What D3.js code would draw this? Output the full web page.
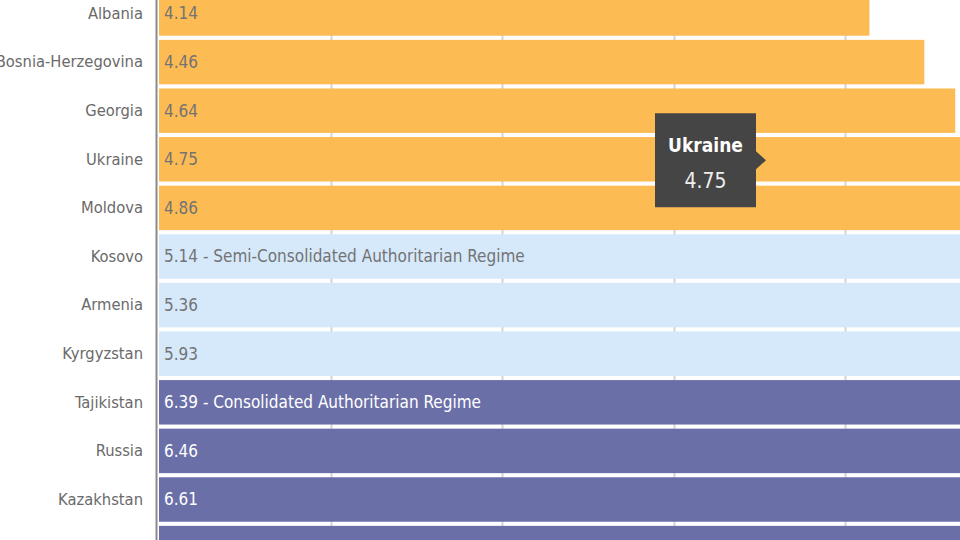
<!DOCTYPE html>
<html><head><meta charset="utf-8">
<script src="https://cdn.jsdelivr.net/npm/d3@7"></script>
<style>
html,body{margin:0;padding:0;background:#fff;overflow:hidden;}
svg{display:block;font-family:"DejaVu Sans Condensed","Liberation Sans Narrow","Open Sans",sans-serif;}
</style></head>
<body>
<svg id="chart" width="960" height="540"></svg>
<script>
const countries = ["Albania","Bosnia-Herzegovina","Georgia","Ukraine","Moldova","Kosovo","Armenia","Kyrgyzstan","Tajikistan","Russia","Kazakhstan","Azerbaijan"];
const scores = [4.14,4.46,4.64,4.75,4.86,5.14,5.36,5.93,6.39,6.46,6.61,6.64];
const regimes = ["Transitional","Transitional","Transitional","Transitional","Transitional","Semi-Consolidated","Semi-Consolidated","Semi-Consolidated","Consolidated","Consolidated","Consolidated","Consolidated"];
const notes = ["","","","","","Semi-Consolidated Authoritarian Regime","","","Consolidated Authoritarian Regime","","",""];
const xTicks = [0,1,2,3,4,5,6,7];
const tooltipCountry = "Ukraine";

const regimeColor = {"Transitional":"#fdbb54","Semi-Consolidated":"#d6e9fb","Consolidated":"#6b6fa8"};
const regimeText = {"Transitional":"#737373","Semi-Consolidated":"#737373","Consolidated":"#ffffff"};

const W = 960, H = 540;
const svg = d3.select("#chart");
const x0 = 159, unit = 171.6;
const x = d3.scaleLinear().domain([0,1]).range([x0, x0+unit]);
const step = 48.6;
const yStart = 13.5 - step/2;
const y = d3.scaleBand().domain(countries).range([yStart, yStart + step*countries.length]).paddingInner(0.085).paddingOuter(0.0425);
const fs = 17;

// grid lines
svg.append("g").selectAll("line").data(xTicks.filter(d=>d>0)).join("line")
  .attr("x1", d=>Math.round(x(d))+0.5).attr("x2", d=>Math.round(x(d))+0.5)
  .attr("y1", 0).attr("y2", H).attr("stroke","#d4d4d4").attr("stroke-width",2);

const data = countries.map((c,i)=>({c, v:scores[i], r:regimes[i], n:notes[i]}));
const inView = d => y(d.c)+y.bandwidth()/2 < H - 4;

svg.append("g").selectAll("rect").data(data).join("rect")
  .attr("x", x(0)).attr("y", d=>y(d.c))
  .attr("width", d=>x(d.v)-x(0)).attr("height", y.bandwidth())
  .attr("fill", d=>regimeColor[d.r]);

svg.append("g").selectAll("text").data(data.filter(inView)).join("text")
  .attr("x", x(0)+5).attr("y", d=>y(d.c)+y.bandwidth()/2)
  .attr("dy","0.35em").attr("font-size",fs)
  .attr("fill", d=>regimeText[d.r])
  .text(d=> d.n ? d3.format(".2f")(d.v)+" - "+d.n : d3.format(".2f")(d.v));

// y axis
const yAxis = d3.axisLeft(y).tickSize(0).tickPadding(14);
const ga = svg.append("g").attr("transform",`translate(${x0-2},0)`).call(yAxis);
ga.attr("font-family", null).attr("font-size", null);
ga.select(".domain").remove();
ga.selectAll(".tick").filter(c=>!inView({c})).remove();
ga.selectAll("text").attr("font-size",16.4).attr("fill","#6a6a6a");
svg.append("line").attr("x1",x0-2.5).attr("x2",x0-2.5).attr("y1",0).attr("y2",H)
  .attr("stroke","#8a8a8a").attr("stroke-width",2);

// tooltip
const td = data.find(d=>d.c===tooltipCountry);
const cy = y(td.c)+y.bandwidth()/2;
const bx = 655, bw = 101, bh = 94, by = cy - 46;
const tt = svg.append("g");
tt.append("path")
  .attr("d", `M${bx},${by} h${bw} v${bh/2-9} l10,9 l-10,9 v${bh/2-9} h${-bw} Z`)
  .attr("fill","#454545");
tt.append("text").attr("x", bx+bw/2).attr("y", by+32).attr("dy","0.35em").attr("text-anchor","middle")
  .attr("font-size",19).attr("font-weight","bold").attr("fill","#fff").text(td.c);
tt.append("text").attr("x", bx+bw/2).attr("y", by+67).attr("dy","0.35em").attr("text-anchor","middle")
  .attr("font-size",21).attr("fill","#eee").text(d3.format(".2f")(td.v));
</script>
</body></html>
